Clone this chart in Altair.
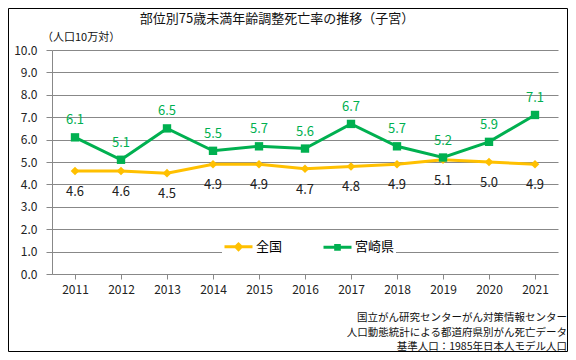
import altair as alt
import pandas as pd

years = ["2011", "2012", "2013", "2014", "2015", "2016", "2017", "2018", "2019", "2020", "2021"]
zenkoku = [4.6, 4.6, 4.5, 4.9, 4.9, 4.7, 4.8, 4.9, 5.1, 5.0, 4.9]
miyazaki = [6.1, 5.1, 6.5, 5.5, 5.7, 5.6, 6.7, 5.7, 5.2, 5.9, 7.1]
series = ["全国", "宮崎県"]
colors = ["#FFC000", "#00B050"]
y_ticks = [0, 1, 2, 3, 4, 5, 6, 7, 8, 9, 10]

title_text = "部位別75歳未満年齢調整死亡率の推移（子宮）"
unit_text = "（人口10万対）"
notes = ["国立がん研究センターがん対策情報センター",
         "人口動態統計による都道府県別がん死亡データ",
         "基準人口：1985年日本人モデル人口"]

FONT = "Noto Sans CJK JP"

rows = []
for i, y in enumerate(years):
    rows.append({"year": y, "series": series[0], "value": zenkoku[i]})
    rows.append({"year": y, "series": series[1], "value": miyazaki[i]})
df = pd.DataFrame(rows)

x_enc = alt.X("year:O", sort=years,
              scale=alt.Scale(paddingInner=0, paddingOuter=0),
              axis=alt.Axis(title=None, labelAngle=0, bandPosition=0, grid=False,
                            tickSize=5, tickColor="#888888", domainColor="#888888",
                            labelPadding=5, labelFontSize=12, labelColor="#222222",
                            labelFont=FONT))
y_enc = alt.Y("value:Q",
              scale=alt.Scale(domain=[0, 10], nice=False),
              axis=alt.Axis(title=None, values=y_ticks, format=".1f", grid=True,
                            gridColor="#888888", gridWidth=1, tickSize=6,
                            tickColor="#888888", domainColor="#888888",
                            labelPadding=9, labelFontSize=12, labelColor="#222222",
                            labelFont=FONT))
color_scale = alt.Scale(domain=series, range=colors)

# legend symbols: stroked line with a small stroked marker (stroke 3px closes it)
diamond_leg = "M-1,0H1M0,-0.2L0.2,0L0,0.2L-0.2,0Z"
square_leg = "M-1,0H1M-0.13,-0.13H0.13V0.13H-0.13Z"
sym_expr = "datum.value === '全国' ? '" + diamond_leg + "' : '" + square_leg + "'"

base = alt.Chart(df)

lines = base.mark_line(strokeWidth=3).encode(
    x=x_enc, y=y_enc,
    color=alt.Color("series:N", scale=color_scale, legend=alt.Legend(
        title=None, orient="none", legendX=170, legendY=180, direction="horizontal",
        fillColor="white", padding=1, symbolSize=784, symbolStrokeWidth=3,
        symbolType={"expr": sym_expr},
        labelFontSize=13, labelFont=FONT, labelColor="#000000", labelOffset=2,
        columnPadding=34,
    )),
)

pts_z = base.transform_filter(alt.datum.series == "全国").mark_point(
    filled=True, opacity=1, size=75, shape="diamond", color="#FFC000").encode(
    x=x_enc, y=y_enc)

pts_m = base.transform_filter(alt.datum.series == "宮崎県").mark_point(
    filled=True, opacity=1, size=70, shape="square", color="#00B050").encode(
    x=x_enc, y=y_enc)

lab_z = base.transform_filter(alt.datum.series == "全国").mark_text(
    dy=21, fontSize=13, font=FONT, color="#202020").encode(
    x=x_enc, y=y_enc, text=alt.Text("value:Q", format=".1f"))

lab_m = base.transform_filter(alt.datum.series == "宮崎県").mark_text(
    dy=-17, fontSize=13, font=FONT, color="#00B050").encode(
    x=x_enc, y=y_enc, text=alt.Text("value:Q", format=".1f"))

title = alt.Chart(pd.DataFrame({"t": [title_text]})).mark_text(
    fontSize=13, font=FONT, color="#111111", align="center", baseline="middle").encode(
    x=alt.value(225), y=alt.value(-31), text="t:N")

unit = alt.Chart(pd.DataFrame({"t": [unit_text]})).mark_text(
    fontSize=11, font=FONT, color="#111111", align="left", baseline="middle").encode(
    x=alt.value(-10), y=alt.value(-12), text="t:N")

note_marks = alt.Chart(pd.DataFrame({"t": ["\n".join(notes)]})).mark_text(
    fontSize=10.5, font=FONT, color="#111111", align="right", baseline="middle",
    lineBreak="\n", lineHeight=14.5).encode(
    x=alt.value(515), y=alt.value(268), text="t:N")

border = alt.Chart(pd.DataFrame({"a": [0]})).mark_rect(
    fill=None, stroke="#000000", strokeWidth=1).encode(
    x=alt.value(-43.5), x2=alt.value(515.5), y=alt.value(-41.5), y2=alt.value(301.5))

chart = alt.layer(lines, pts_z, pts_m, lab_z, lab_m, title, unit, note_marks, border).properties(
    width=506, height=224,
    autosize=alt.AutoSizeParams(type="none"),
    padding={"left": 44, "top": 42, "right": 10, "bottom": 78},
    background="white",
).configure_view(stroke=None)

chart.save("out.html", embed_options={"renderer": "svg", "actions": False})
